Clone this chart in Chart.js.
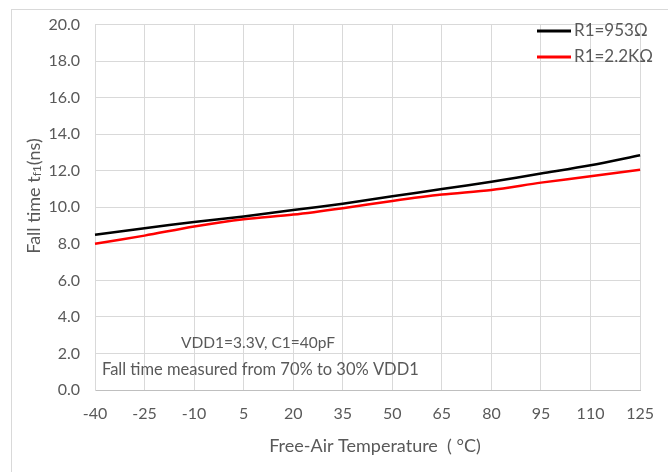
<!DOCTYPE html>
<html>
<head>
<meta charset="utf-8">
<script src="https://cdn.jsdelivr.net/npm/chart.js@4.4.1/dist/chart.umd.min.js"></script>
<style>
  html, body { margin: 0; padding: 0; background: #fff; }
  #wrap { width: 668px; height: 472px; position: relative; }
</style>
</head>
<body>
<div id="wrap"><canvas id="myChart"></canvas></div>
<script>
var temps = ['-40', '-25', '-10', '5', '20', '35', '50', '65', '80', '95', '110', '125'];
var fallR953 = [8.5, 8.85, 9.2, 9.5, 9.85, 10.2, 10.6, 11.0, 11.4, 11.85, 12.3, 12.85];
var fallR2k2 = [8.0, 8.45, 8.95, 9.35, 9.6, 9.95, 10.35, 10.7, 10.95, 11.35, 11.7, 12.05];
var seriesNames = ['R1=953\u03A9', 'R1=2.2K\u03A9'];
var noteLines = ['VDD1=3.3V, C1=40pF', 'Fall time measured from 70% to 30% VDD1'];

var fontName = 'Lato, "Open Sans", sans-serif';
var textColor = '#595959';

// frame, titles, notes and legend drawn by hand
var extras = {
    id: 'extras',
    beforeDraw: function (chart) {
        var c = chart.ctx;
        c.save();
        c.strokeStyle = '#d9d9d9';
        c.lineWidth = 1;
        c.strokeRect(11.5, 9.5, 700, 500);
        c.restore();
    },
    afterDraw: function (chart) {
        var c = chart.ctx;
        c.save();
        c.fillStyle = textColor;
        c.textBaseline = 'middle';

        // x title
        c.font = '18px ' + fontName;
        c.textAlign = 'center';
        c.fillText('Free-Air Temperature  ( \u00B0C)', 375, 446);

        // y title with subscript
        c.save();
        c.translate(34, 196);
        c.rotate(-Math.PI / 2);
        var big = '18px ' + fontName;
        var small = '12px ' + fontName;
        var parts = [['Fall time t', big, 0], ['f1', small, 3], ['(ns)', big, 0]];
        var total = 0;
        parts.forEach(function (p) { c.font = p[1]; total += c.measureText(p[0]).width; });
        var px = -total / 2;
        c.textAlign = 'left';
        parts.forEach(function (p) {
            c.font = p[1];
            c.fillText(p[0], px, p[2]);
            px += c.measureText(p[0]).width;
        });
        c.restore();

        // notes
        c.textAlign = 'left';
        c.font = '15.5px ' + fontName;
        c.fillText(noteLines[0], 181, 343);
        c.font = '16.5px ' + fontName;
        c.fillText(noteLines[1], 102, 370);

        // legend
        var ly = [31, 57];
        chart.data.datasets.forEach(function (ds, i) {
            c.strokeStyle = ds.borderColor;
            c.lineWidth = 3;
            c.beginPath();
            c.moveTo(537, ly[i]);
            c.lineTo(571, ly[i]);
            c.stroke();
            c.fillStyle = textColor;
            c.font = '17px ' + fontName;
            c.fillText(ds.label, 574, ly[i]);
        });
        c.restore();
    }
};

var ctx_report = document.getElementById('myChart');
var myChart = new Chart(ctx_report, {
    type: 'line',
    data: {
        labels: temps,
        datasets: [
            {
                label: seriesNames[0],
                data: fallR953,
                borderColor: '#000000',
                backgroundColor: '#000000',
                borderWidth: 2.5,
                pointRadius: 0,
                tension: 0.3
            },
            {
                label: seriesNames[1],
                data: fallR2k2,
                borderColor: '#ff0000',
                backgroundColor: '#ff0000',
                borderWidth: 2.5,
                pointRadius: 0,
                tension: 0.3
            }
        ]
    },
    options: {
        responsive: true,
        maintainAspectRatio: false,
        animation: false,
        layout: { padding: { left: 0, right: 26, top: 20, bottom: 0 } },
        plugins: {
            legend: { display: false },
            tooltip: { enabled: false }
        },
        scales: {
            x: {
                offset: false,
                grid: { color: '#d9d9d9', drawTicks: false },
                border: { color: '#bfbfbf' },
                ticks: {
                    color: textColor,
                    font: { family: fontName, size: 16 },
                    padding: 14,
                    maxRotation: 0,
                    autoSkip: false
                },
                afterFit: function (scale) { scale.height = 82; }
            },
            y: {
                min: 0,
                max: 20,
                grid: { color: '#d9d9d9', drawTicks: false },
                border: { color: '#d9d9d9' },
                ticks: {
                    stepSize: 2,
                    color: textColor,
                    font: { family: fontName, size: 16 },
                    padding: 15,
                    callback: function (v) { return v.toFixed(1); }
                },
                afterFit: function (scale) { scale.width = 95; }
            }
        }
    },
    plugins: [extras]
});
</script>
</body>
</html>
